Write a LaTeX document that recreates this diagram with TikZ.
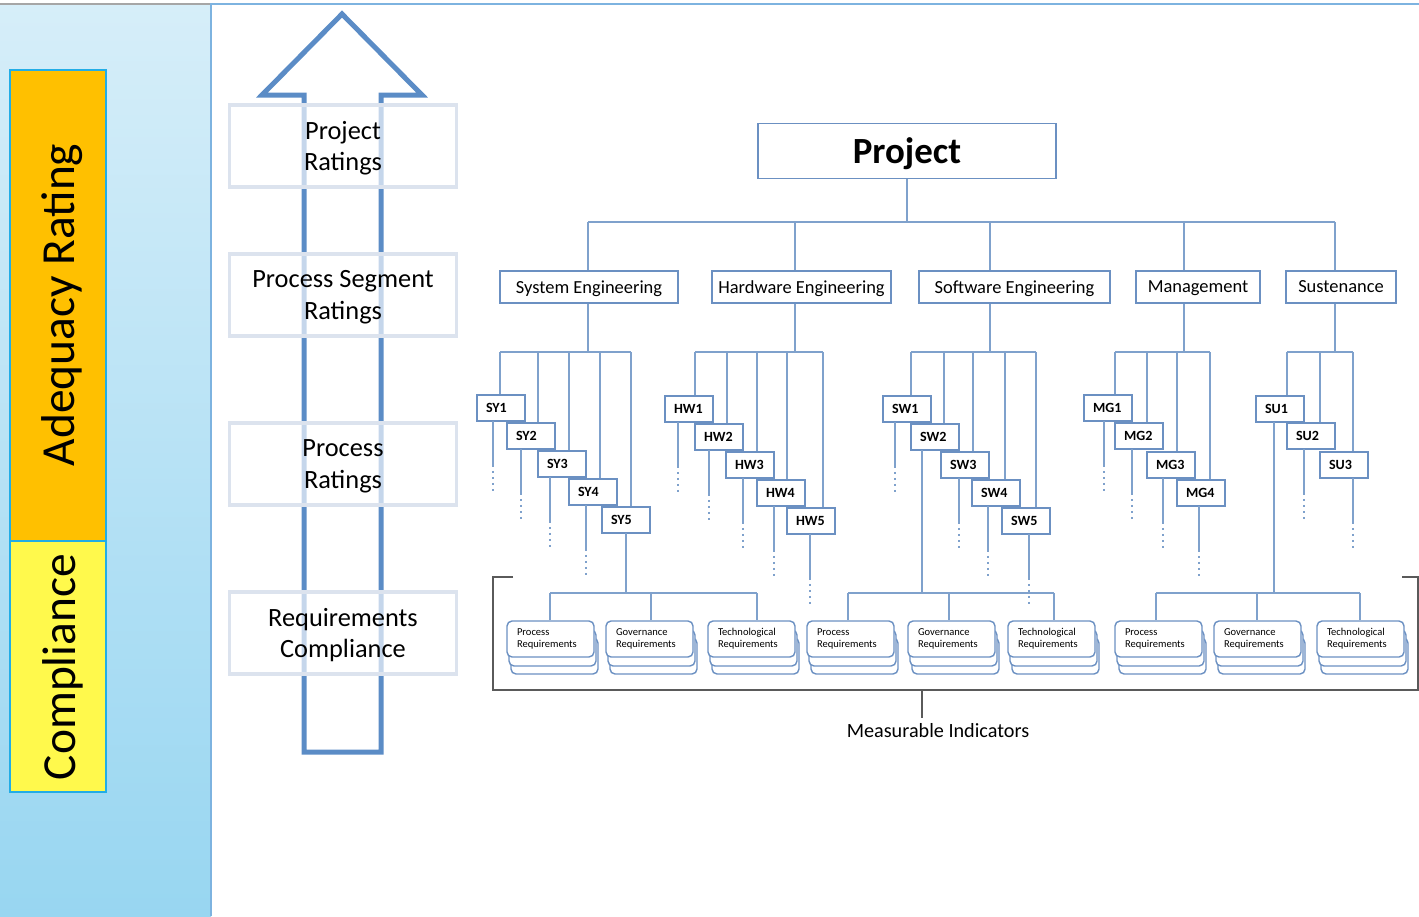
\documentclass[tikz,border=0pt]{standalone}
\usepackage{fontspec}
\setmainfont{Carlito}
\usetikzlibrary{calc}
\definecolor{himmelo}{HTML}{D6EEF9}
\definecolor{himmelu}{HTML}{98D6F1}
\definecolor{cyanrand}{HTML}{22ADE6}
\definecolor{gelbor}{HTML}{FFC000}
\definecolor{zitrone}{HTML}{FFF94C}
\definecolor{pfeilb}{HTML}{5B8CC6}
\definecolor{astb}{HTML}{7FA1CC}
\definecolor{kastb}{HTML}{6B90C2}
\definecolor{nebel}{HTML}{DCE3EE}
\definecolor{randb}{HTML}{7DB3E0}
\definecolor{dgrau}{HTML}{5A5A5A}
\tikzset{
  linie/.style={astb,line width=0.9pt},
  punkte/.style={astb,line width=0.9pt,dash pattern=on 1.2pt off 2.2pt},
  kat/.style={draw=kastb,line width=0.9pt,fill=white,minimum height=0.64cm,inner sep=0pt,text depth=0pt,font=\fontsize{10.5}{12}\selectfont},
  teil/.style={draw=kastb,line width=0.9pt,fill=white,minimum height=0.52cm,text width=0.6cm,inner xsep=0.18cm,inner ysep=0pt,text depth=0pt,align=left,font=\bfseries\fontsize{8}{9}\selectfont},
  anf/.style={draw=kastb,line width=0.8pt,fill=white,rounded corners=0.1cm,minimum height=0.72cm,text width=1.34cm,inner xsep=0.2cm,inner ysep=0pt,align=left,font=\fontsize{6}{7}\selectfont},
  wert/.style={fill=white,fill opacity=0.65,text opacity=1,draw=nebel,line width=1.8pt,minimum width=4.54cm,minimum height=1.64cm,text depth=0pt,align=center,font=\fontsize{15}{18}\selectfont},
  seite/.style={draw=cyanrand,line width=1.6pt},
  klammer/.style={dgrau,line width=0.9pt},
}
\begin{document}
\begin{tikzpicture}[x=0.02cm,y=-0.02cm]
  \useasboundingbox (0,0) rectangle (1419,916);
  % linke Leiste
  \shade[top color=himmelo,bottom color=himmelu] (0,4) rectangle (211,916);
  \draw[gray!70,line width=0.6pt] (0,4) -- (211,4);
  \draw[randb,line width=1pt] (211,916) -- (211,4) -- (1419,4);
  \draw[seite,fill=gelbor] (10,70) rectangle (106,541);
  \draw[seite,fill=zitrone] (10,541) rectangle (106,792);
  \node[rotate=90,font=\fontsize{27}{30}\selectfont] (adeq) at (62,305) {Adequacy Rating};
  \node[rotate=90,font=\fontsize{27}{30}\selectfont] (compl) at (63,667) {Compliance};
  % Pfeil
  \draw[pfeilb,line width=0.1cm,line join=miter] (304,752) -- (304,95) -- (262,95) -- (342,14)
    -- (422,95) -- (381,95) -- (381,752) -- cycle;
  \node[wert] (rp) at (343,146) {Project\\Ratings};
  \node[wert] (rs) at (343,295) {Process Segment\\Ratings};
  \node[wert] (rv) at (343,464) {Process\\Ratings};
  \node[wert] (ra) at (343,633) {Requirements\\Compliance};
  % Baum
  \node[draw=kastb,line width=0.9pt,minimum width=5.96cm,minimum height=1.1cm,text depth=0pt,
    font=\bfseries\fontsize{21}{24}\selectfont] (proj) at (907,151) {Project};
  \node[kat,minimum width=3.56cm] (se) at (589,287) {System Engineering};
  \node[kat,minimum width=3.58cm] (hw) at (801.5,287) {Hardware Engineering};
  \node[kat,minimum width=3.82cm] (sw) at (1014.5,287) {Software Engineering};
  \node[kat,minimum width=2.48cm] (mg) at (1198,287) {Management};
  \node[kat,minimum width=2.2cm] (su) at (1341,287) {Sustenance};
  \foreach \n/\x in {se/588,hw/795,sw/990,mg/1184,su/1335}{
    \coordinate (\n-o) at (\x,222);
    \coordinate (\n-u) at (\x,352);
    \draw[linie] (\n-o) -- (\n-o |- \n.north);
    \draw[linie] (\n-u |- \n.south) -- (\n-u);
  }
  \draw[linie] (proj.south) -- (proj.south |- se-o);
  \draw[linie] (se-o) -- (su-o);
  % Teilprozesse: Name/Text/links/oben/Anschluss oben/Anschluss unten/weiter
  \foreach \n/\t/\x/\y/\a/\b/\m in {
      sy1/SY1/477/395/500/493/0, sy2/SY2/507/423/538/521/0, sy3/SY3/538/451/569/550/0,
      sy4/SY4/569/479/600/586/0, sy5/SY5/602/507/631/626/1,
      hw1/HW1/665/396/695/678/0, hw2/HW2/695/424/727/709/0, hw3/HW3/726/452/757/743/0,
      hw4/HW4/757/480/787/774/0, hw5/HW5/787/508/823/810/0,
      sw1/SW1/883/396/911/895/0, sw2/SW2/911/424/944/922/1, sw3/SW3/941/452/973/959/0,
      sw4/SW4/972/480/1005/988/0, sw5/SW5/1002/508/1036/1029/0,
      mg1/MG1/1084/395/1115/1104/0, mg2/MG2/1115/423/1147/1132/0, mg3/MG3/1147/452/1177/1163/0,
      mg4/MG4/1177/480/1210/1199/0,
      su1/SU1/1256/396/1287/1274/1, su2/SU2/1287/423/1320/1304/0, su3/SU3/1320/452/1353/1353/0}{
    \node[teil] (\n) at (\x+24,\y+13) {\t};
    \coordinate (\n-o) at (\a,352);
    \coordinate (\n-u) at (\b,\y+26);
    \draw[linie] (\n-o) -- (\n-o |- \n.north);
    \ifnum\m=0
      \draw[linie] (\n-u) -- ++(0,44) coordinate (\n-p);
      \draw[punkte] (\n-p) -- ++(0,28);
    \fi
  }
  \draw[linie] (sy1-o) -- (sy5-o);
  \draw[linie] (hw1-o) -- (hw5-o);
  \draw[linie] (sw1-o) -- (sw5-o);
  \draw[linie] (mg1-o) -- (mg4-o);
  \draw[linie] (su1-o) -- (su3-o);
  % Anforderungen (Stapel)
  \foreach \n/\t/\x/\d in {p1/Process/507/550, v1/Governance/606/651, t1/Technological/708/757,
      p2/Process/807/848, v2/Governance/908/949, t2/Technological/1008/1054,
      p3/Process/1115/1156, v3/Governance/1214/1257, t3/Technological/1317/1360}{
    \node[anf] (\n-c) at (\x+47.5,656) {};
    \node[anf] (\n-b) at (\x+45.5,648) {};
    \node[anf] (\n) at (\x+43.5,639) {\t\\Requirements};
    \coordinate (\n-o) at (\d,593);
    \draw[linie] (\n-o) -- (\n-o |- \n.north);
  }
  \draw[linie] (p1-o) -- (t1-o);
  \draw[linie] (p2-o) -- (t2-o);
  \draw[linie] (p3-o) -- (t3-o);
  \draw[linie] (sy5-u) -- (sy5-u |- p1-o);
  \draw[linie] (sw2-u) -- (sw2-u |- p2-o);
  \draw[linie] (su1-u) -- (su1-u |- p3-o);
  % Klammer
  \draw[klammer] (513,577) -- (493,577) -- (493,690) -- (1418,690) -- (1418,577) -- (1402,577);
  \node[font=\fontsize{11.5}{13}\selectfont] (mi) at (938,731) {Measurable Indicators};
  \coordinate (mk) at (922,690);
  \draw[klammer] (mk) -- (mk |- mi.north);
\end{tikzpicture}
\end{document}
